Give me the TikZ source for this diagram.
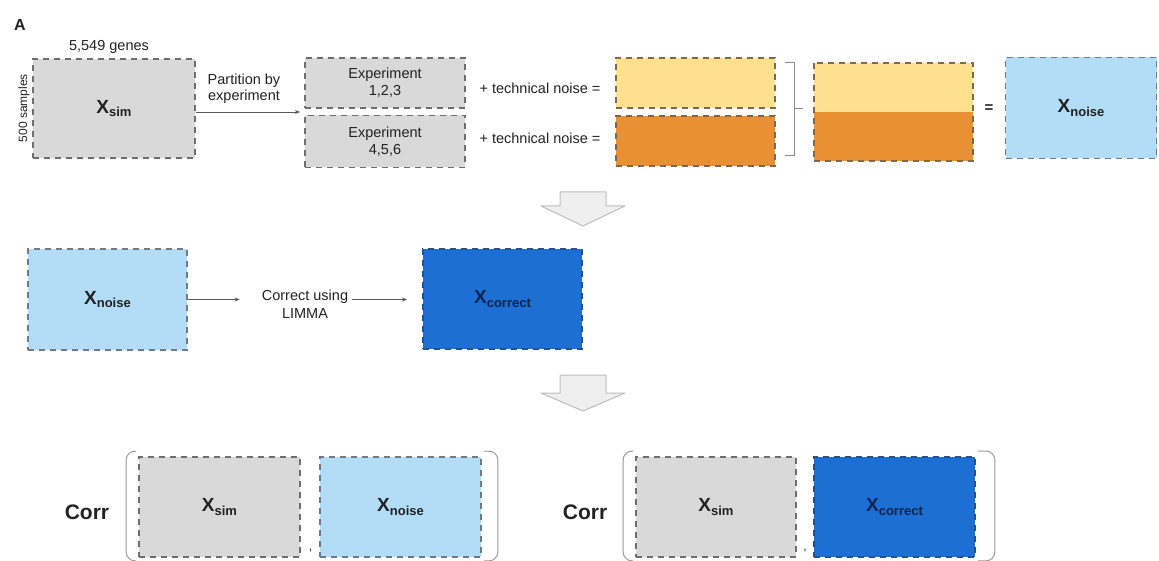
\documentclass[tikz,border=0pt]{standalone}
\usepackage{fontspec}
\setmainfont{Liberation Sans}
\usetikzlibrary{arrows.meta,calc}
\definecolor{gfill}{HTML}{D9D9D9}
\definecolor{gline}{HTML}{6E6E6E}
\definecolor{yfill}{HTML}{FFE08E}
\definecolor{ofill}{HTML}{EA9034}
\definecolor{oline}{HTML}{7D6A4E}
\definecolor{lbfill}{HTML}{B3DDF7}
\definecolor{lbline}{HTML}{6D7B88}
\definecolor{dbfill}{HTML}{1E6FD4}
\definecolor{dbline}{HTML}{23508E}
\definecolor{txt}{HTML}{222222}
\definecolor{navy}{HTML}{0B2550}
\definecolor{arrfill}{HTML}{EFEFEF}
\definecolor{arrline}{HTML}{BDBDBD}
\newcommand\Xlab[1]{{\fontsize{19}{19}\selectfont\bfseries X}\raisebox{-0.6ex}{\fontsize{13}{13}\selectfont\bfseries #1}}
\tikzset{
  dbox/.style={draw, line width=1.8pt, dash pattern=on 6pt off 5pt, inner sep=0pt, text=txt},
  graybox/.style={dbox, fill=gfill, draw=gline},
  ybox/.style={dbox, fill=yfill, draw=oline},
  obox/.style={dbox, fill=ofill, draw=oline},
  lbbox/.style={dbox, fill=lbfill, draw=lbline},
  dbbox/.style={dbox, fill=dbfill, draw=dbline, text=navy},
  plain/.style={inner sep=0pt, text=txt},
  conn/.style={draw=black!65, line width=0.9pt, -{Stealth[length=5pt,width=4pt]}},
  brk/.style={draw=black!45, line width=0.9pt},
  paren/.style={draw=black!40, line width=1pt, rounded corners=9pt},
  blockarrow/.style={fill=arrfill, draw=arrline, line width=1pt, line join=round}
}
\begin{document}
\begin{tikzpicture}[x=1pt,y=-1pt]
\useasboundingbox (0,0) rectangle (1159,561);
% ---------- Row 1 ----------
\node[plain, font=\fontsize{16}{16}\selectfont\bfseries] (lblA) at (20,25) {A};
\node[plain, font=\fontsize{14.5}{15}\selectfont] (genes) at (109,47) {5,549 genes};
\node[plain, font=\fontsize{12}{12}\selectfont, rotate=90] (samples) at (24,108) {500 samples};
\node[graybox, minimum width=162pt, minimum height=99pt] (xsim) at (114,108.5) {\Xlab{sim}};
\node[plain, font=\fontsize{14.5}{15.5}\selectfont, align=center] (part) at (244,89) {Partition by\\experiment};
\coordinate (split) at (300,112);
\draw[conn] (xsim.east |- split) -- (split);
\node[graybox, minimum width=160pt, minimum height=50pt, font=\fontsize{14.5}{17}\selectfont, align=center] (exp1) at (385,83) {Experiment\\1,2,3};
\node[graybox, minimum width=160pt, minimum height=52pt, font=\fontsize{14.5}{17}\selectfont, align=center] (exp2) at (385,141.5) {Experiment\\4,5,6};
\node[plain, font=\fontsize{14.5}{15}\selectfont] (tn1) at (540,88) {+ technical noise =};
\node[plain, font=\fontsize{14.5}{15}\selectfont] (tn2) at (540,138) {+ technical noise =};
\node[ybox, minimum width=159pt, minimum height=50pt] (y1) at (695.5,83) {};
\node[obox, minimum width=159pt, minimum height=50pt] (o1) at (695.5,141) {};
% bracket
\coordinate (bt) at (794,62);
\coordinate (bb) at (794,155);
\coordinate (bm) at (794,108);
\draw[brk] ($(bt)+(-9,0)$) -- (bt) -- (bb) -- ($(bb)+(-9,0)$);
\draw[brk] (bm) -- ($(bm)+(9,0)$);
% combined
\node[inner sep=0pt, fill=yfill, minimum width=159pt, minimum height=49pt] (ctop) at (893.5,87.5) {};
\node[inner sep=0pt, fill=ofill, minimum width=159pt, minimum height=49pt] (cbot) at (893.5,136.5) {};
\draw[line width=1.8pt, dash pattern=on 6pt off 5pt, draw=oline] (ctop.north west) rectangle (cbot.south east);
\node[plain, font=\fontsize{15}{15}\selectfont\bfseries] (eq) at (989,109) {=};
\node[lbbox, minimum width=151pt, minimum height=101pt] (xn1) at (1081,108) {\Xlab{noise}};
% block arrow 1
\draw[blockarrow] (560,192) -- (606,192) -- (606,206) -- (625,206) -- (583,226) -- (541,206) -- (560,206) -- cycle;
% ---------- Row 2 ----------
\node[lbbox, minimum width=159pt, minimum height=101pt] (xn2) at (107.5,299.5) {\Xlab{noise}};
\node[plain, font=\fontsize{14.5}{18}\selectfont, align=center] (corr) at (305,304) {Correct using\\LIMMA};
\node[dbbox, minimum width=159pt, minimum height=100pt] (xc2) at (502.5,299) {\Xlab{correct}};
\draw[conn, shorten >=22pt] (xn2.east) -- (corr.west |- xn2.east);
\draw[conn, shorten >=15pt, shorten <=4pt] (corr.east |- xn2.east) -- (xc2.west |- xn2.east);
% block arrow 2
\draw[blockarrow] (560,375) -- (606,375) -- (606,393) -- (625,393) -- (583,411) -- (541,393) -- (560,393) -- cycle;
% ---------- Row 3 ----------
\node[plain, font=\fontsize{21}{21}\selectfont\bfseries] (corrA) at (87,512) {Corr};
\node[graybox, minimum width=161pt, minimum height=100pt] (s3) at (219.5,507) {\Xlab{sim}};
\node[lbbox, minimum width=161pt, minimum height=100pt] (n3) at (400.5,507) {\Xlab{noise}};
\node[plain, font=\fontsize{12}{12}\selectfont] (cm1) at (310.5,551) {,};
\draw[paren] ($(s3.north west)+(-2,-5)$) -- ($(s3.north west)+(-12,-5)$) -- ($(s3.south west)+(-12,3)$) -- ($(s3.south west)+(-2,3)$);
\draw[paren] ($(n3.north east)+(2,-5)$) -- ($(n3.north east)+(16,-5)$) -- ($(n3.south east)+(16,3)$) -- ($(n3.south east)+(2,3)$);
\node[plain, font=\fontsize{21}{21}\selectfont\bfseries] (corrB) at (585,512) {Corr};
\node[graybox, minimum width=160pt, minimum height=100pt] (s4) at (716,507) {\Xlab{sim}};
\node[dbbox, minimum width=161pt, minimum height=100pt] (c4) at (894.5,507) {\Xlab{correct}};
\node[plain, font=\fontsize{12}{12}\selectfont] (cm2) at (805,551) {,};
\draw[paren] ($(s4.north west)+(-2,-5)$) -- ($(s4.north west)+(-12,-5)$) -- ($(s4.south west)+(-12,3)$) -- ($(s4.south west)+(-2,3)$);
\draw[paren] ($(c4.north east)+(2,-5)$) -- ($(c4.north east)+(19,-5)$) -- ($(c4.south east)+(19,3)$) -- ($(c4.south east)+(2,3)$);
\end{tikzpicture}
\end{document}
